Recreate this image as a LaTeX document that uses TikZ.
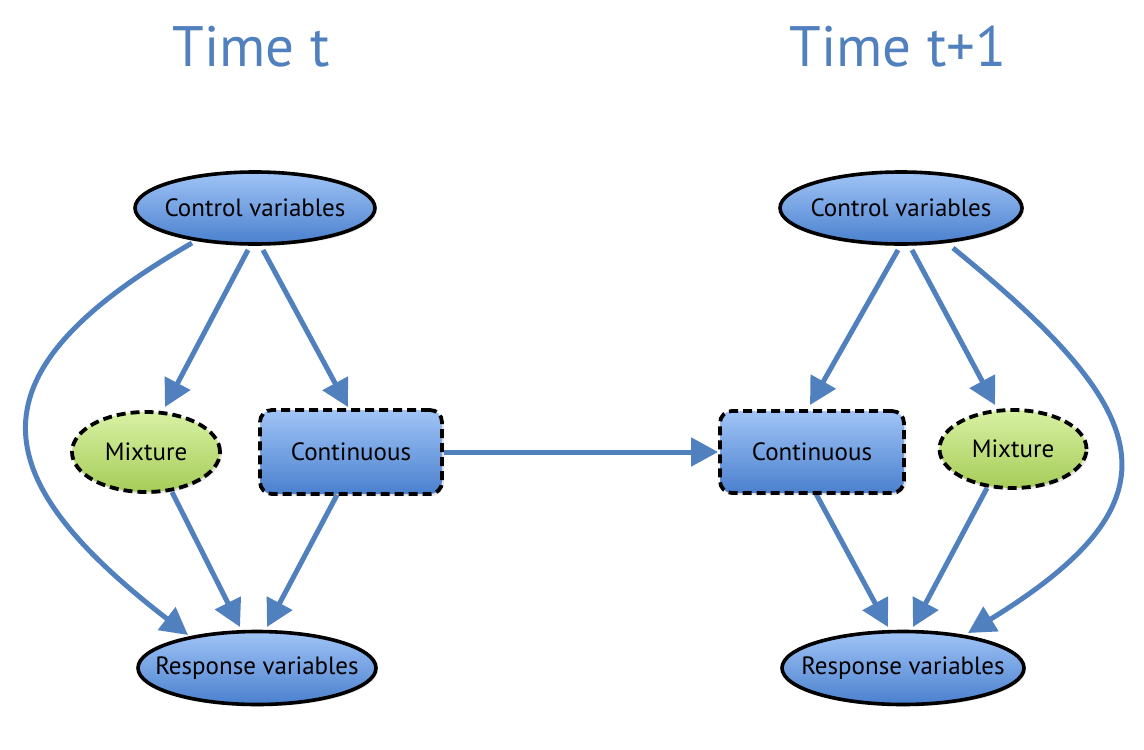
\documentclass[tikz,border=0pt]{standalone}
\usepackage{fontspec}
\setmainfont{PT Sans}
\usetikzlibrary{shapes.geometric,arrows.meta,calc,backgrounds,shadows}

\definecolor{linkblue}{RGB}{80,128,190}
\definecolor{titleblue}{RGB}{80,128,190}
\definecolor{bluetop}{RGB}{160,196,246}
\definecolor{bluebot}{RGB}{74,128,206}
\definecolor{greentop}{RGB}{216,241,164}
\definecolor{greenbot}{RGB}{166,204,88}

% centred text that does not widen its node
\newcommand{\nodetext}[1]{\makebox[0pt][c]{#1}}

\tikzset{
  varnode/.style={ellipse, draw=black, line width=3.6pt, inner sep=0pt,
    top color=bluetop, bottom color=bluebot, font=\fontsize{25}{28}\selectfont,
    drop shadow={opacity=0.2, shadow xshift=2pt, shadow yshift=-2pt}},
  mixnode/.style={ellipse, draw=black, line width=3.8pt, inner sep=0pt,
    dash pattern=on 9pt off 5pt,
    top color=greentop, bottom color=greenbot, font=\fontsize{25}{28}\selectfont,
    drop shadow={opacity=0.2, shadow xshift=2pt, shadow yshift=-2pt}},
  contnode/.style={rectangle, rounded corners=12pt, draw=black, line width=3.8pt,
    dash pattern=on 9pt off 5pt, inner sep=0pt,
    top color=bluetop, bottom color=bluebot, font=\fontsize{25}{28}\selectfont,
    drop shadow={opacity=0.2, shadow xshift=2pt, shadow yshift=-2pt}},
  titlenode/.style={text=titleblue, font=\fontsize{57}{62}\selectfont},
  link/.style={draw=linkblue, line width=5pt,
    -{Triangle[length=27pt,width=28pt]}},
}

\begin{document}
\begin{tikzpicture}[x=1pt,y=-1pt]
\useasboundingbox (0,0) rectangle (1144,750);

% titles
\node[titlenode] (titleL) at (251,47) {Time t};
\node[titlenode] (titleR) at (898,47) {Time t+1};

% time t
\node[varnode, minimum width=240pt, minimum height=72pt] (ctrlL) at (255,208) {\nodetext{Control variables}};
\node[mixnode, minimum width=148pt, minimum height=80pt] (mixL) at (146,452) {\nodetext{Mixture}};
\node[contnode, minimum width=182pt, minimum height=84pt] (contL) at (351,452) {\nodetext{Continuous}};
\node[varnode, minimum width=238pt, minimum height=73pt] (respL) at (257,668) {\nodetext{Response variables}};

% time t+1
\node[varnode, minimum width=242pt, minimum height=72pt] (ctrlR) at (901,208) {\nodetext{Control variables}};
\node[contnode, minimum width=184pt, minimum height=82pt] (contR) at (812,452) {\nodetext{Continuous}};
\node[mixnode, minimum width=147pt, minimum height=78pt] (mixR) at (1013,449) {\nodetext{Mixture}};
\node[varnode, minimum width=242pt, minimum height=73pt] (respR) at (903,668) {\nodetext{Response variables}};

\begin{pgfonlayer}{background}
  % time t
  \draw[link] ($(ctrlL)+(-7,42)$) -- ($(mixL)+(19,-45)$);
  \draw[link] ($(ctrlL)+(8,42)$) -- ($(contL)+(-3,-45)$);
  \draw[link] ($(ctrlL)+(-63,35)$) .. controls (-34,373) and (-18,476) .. ($(respL)+(-69,-33)$);
  \draw[link] ($(mixL)+(26,40)$) -- ($(respL)+(-17,-41)$);
  \draw[link] ($(contL)+(-14,43)$) -- ($(respL)+(10,-41)$);
  % across time
  \draw[link] (contL.east) -- (contR.west);
  % time t+1
  \draw[link] ($(ctrlR)+(-3,42)$) -- ($(contR)+(-2,-47)$);
  \draw[link] ($(ctrlR)+(11,42)$) -- ($(mixR)+(-18,-44)$);
  \draw[link] ($(ctrlR)+(52,40)$) .. controls (1153,411) and (1188,498) .. ($(respR)+(65,-35)$);
  \draw[link] ($(contR)+(3,40)$) -- ($(respR)+(-15,-41)$);
  \draw[link] ($(mixR)+(-26,39)$) -- ($(respR)+(10,-41)$);
\end{pgfonlayer}
\end{tikzpicture}
\end{document}
